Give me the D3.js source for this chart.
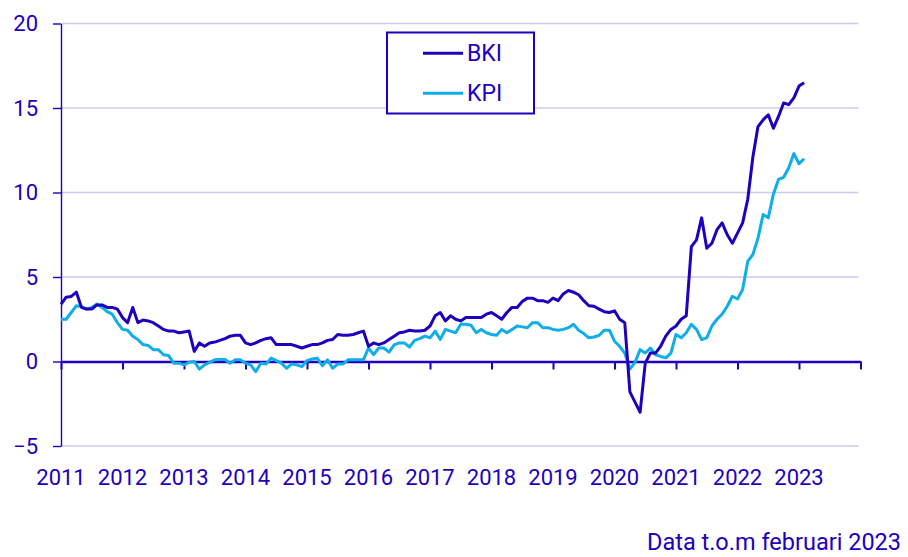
<!DOCTYPE html>
<html>
<head>
<meta charset="utf-8">
<script src="https://cdn.jsdelivr.net/npm/d3@7"></script>
<style>
  body { margin: 0; background: #fff; }
  text { font-family: Roboto, "Noto Sans", sans-serif; fill: #1e00be; }
</style>
</head>
<body>
<div id="chart"></div>
<script>
// monthly values, jan 2011 - feb 2023
var years = ["2011", "2012", "2013", "2014", "2015", "2016", "2017", "2018", "2019", "2020", "2021", "2022", "2023", ""];
var yTicks = [-5, 0, 5, 10, 15, 20];
var seriesNames = ["BKI", "KPI"];

var bki = [
  3.4, 3.8, 3.85, 4.1, 3.2, 3.1, 3.1, 3.35, 3.35, 3.2, 3.2, 3.1,
  2.6, 2.3, 3.2, 2.3, 2.45, 2.4, 2.3, 2.1, 1.9, 1.8, 1.8, 1.7,
  1.75, 1.8, 0.6, 1.1, 0.9, 1.1, 1.15, 1.25, 1.35, 1.5, 1.55, 1.55,
  1.1, 1.0, 1.1, 1.25, 1.35, 1.4, 1.0, 1.0, 1.0, 1.0, 0.9, 0.8,
  0.9, 1.0, 1.0, 1.1, 1.25, 1.3, 1.6, 1.55, 1.55, 1.6, 1.7, 1.8,
  0.9, 1.1, 1.0, 1.1, 1.3, 1.5, 1.7, 1.75, 1.85, 1.8, 1.8, 1.85,
  2.1, 2.7, 2.9, 2.4, 2.7, 2.5, 2.4, 2.6, 2.6, 2.6, 2.6, 2.8,
  2.9, 2.7, 2.5, 2.9, 3.2, 3.2, 3.55, 3.75, 3.75, 3.6, 3.6, 3.5,
  3.75, 3.6, 4.0, 4.2, 4.1, 3.95, 3.6, 3.3, 3.27, 3.1, 2.95, 2.9,
  3.0, 2.5, 2.3, -1.8, -2.4, -3.0, -0.1, 0.5, 0.5, 0.9, 1.5, 1.9,
  2.1, 2.5, 2.7, 6.8, 7.2, 8.5, 6.7, 7.0, 7.8, 8.2, 7.5, 7.0,
  7.6, 8.2, 9.6, 12.1, 13.9, 14.3, 14.6, 13.8, 14.5, 15.3, 15.2, 15.6,
  16.3, 16.5
];

var kpi = [
  2.5, 2.5, 2.9, 3.3, 3.25, 3.1, 3.2, 3.4, 3.2, 2.95, 2.8, 2.3,
  1.9, 1.85, 1.5, 1.3, 1.0, 0.95, 0.7, 0.7, 0.4, 0.35, -0.1, -0.1,
  -0.2, -0.05, 0.0, -0.45, -0.2, -0.05, 0.1, 0.12, 0.12, -0.1, 0.1, 0.1,
  -0.1, -0.2, -0.6, -0.1, -0.15, 0.2, 0.05, -0.1, -0.4, -0.15, -0.2, -0.3,
  0.05, 0.15, 0.2, -0.25, 0.1, -0.4, -0.15, -0.15, 0.1, 0.1, 0.1, 0.1,
  0.8, 0.41, 0.8, 0.8, 0.55, 0.98, 1.1, 1.1, 0.86, 1.25, 1.35, 1.5,
  1.4, 1.8, 1.3, 1.9, 1.8, 1.7, 2.2, 2.2, 2.15, 1.7, 1.9, 1.7,
  1.6, 1.55, 1.9, 1.7, 1.9, 2.1, 2.05, 2.0, 2.3, 2.3, 2.0, 2.0,
  1.9, 1.85, 1.9, 2.0, 2.2, 1.85, 1.65, 1.4, 1.45, 1.55, 1.85, 1.85,
  1.2, 0.9, 0.5, -0.45, -0.05, 0.7, 0.5, 0.8, 0.4, 0.3, 0.22, 0.5,
  1.6, 1.4, 1.7, 2.2, 1.9, 1.3, 1.4, 2.1, 2.5, 2.8, 3.27, 3.86,
  3.7, 4.26, 5.93, 6.33, 7.3, 8.7, 8.5, 9.9, 10.77, 10.9, 11.46, 12.3,
  11.7, 12.0
];

var colors = { BKI: "#1e00be", KPI: "#10aee8" };
var dark = "#1e00be";
var grid = "#cbcbf0";

var width = 908, height = 557;
var svg = d3.select("#chart").append("svg")
    .attr("width", width).attr("height", height);

// one unit = one month
var x = d3.scaleLinear().domain([0, 156]).range([61, 860.5]);
var y = d3.scaleLinear().domain([-5, 20]).range([446, 23.5]);

// gridlines
svg.append("g")
    .selectAll("line")
    .data(yTicks.filter(function (d) { return d !== 0; }))
    .enter().append("line")
    .attr("x1", x(0)).attr("x2", x(156) - 2)
    .attr("y1", function (d) { return y(d); })
    .attr("y2", function (d) { return y(d); })
    .attr("stroke", grid)
    .attr("stroke-width", 1.5);

// y axis
var yAxis = svg.append("g")
    .attr("transform", "translate(" + x(0) + ",0)")
    .call(d3.axisLeft(y).tickValues(yTicks).tickSize(8).tickPadding(15).tickSizeOuter(0));
yAxis.select(".domain").attr("stroke", dark).attr("stroke-width", 1.4);
yAxis.selectAll(".tick line").attr("stroke", dark).attr("stroke-width", 1.4);
yAxis.selectAll(".tick text")
    .attr("font-size", 22).attr("fill", dark)
    .style("font-family", "Roboto, sans-serif");

// x axis on zero line
var monthTicks = years.map(function (d, i) { return i * 12; });
var xAxis = svg.append("g")
    .attr("transform", "translate(0," + y(0) + ")")
    .call(d3.axisBottom(x).tickValues(monthTicks).tickSize(8).tickSizeOuter(0).tickFormat(""));
xAxis.select(".domain").attr("stroke", dark).attr("stroke-width", 2.4);
xAxis.selectAll(".tick line").attr("stroke", dark).attr("stroke-width", 2);

// year labels under the plot
svg.append("g")
    .selectAll("text")
    .data(years)
    .enter().append("text")
    .attr("x", function (d, i) { return x(i * 12); })
    .attr("y", 485)
    .attr("text-anchor", "middle")
    .attr("font-size", 22)
    .text(function (d) { return d; });

// lines
var line = d3.line()
    .x(function (d, i) { return x(i); })
    .y(function (d) { return y(d); });

var seriesData = { BKI: bki, KPI: kpi };
seriesNames.slice().reverse().forEach(function (name) {
    svg.append("path")
        .datum(seriesData[name])
        .attr("d", line)
        .attr("fill", "none")
        .attr("stroke", colors[name])
        .attr("stroke-width", 3)
        .attr("stroke-linejoin", "round");
});

// legend
var legend = svg.append("g");
legend.append("rect")
    .attr("x", 387).attr("y", 32.5)
    .attr("width", 147).attr("height", 81)
    .attr("fill", "#fff")
    .attr("stroke", dark)
    .attr("stroke-width", 2);

seriesNames.forEach(function (name, i) {
    var ly = 53.3 + i * 40;
    legend.append("line")
        .attr("x1", 423).attr("x2", 463)
        .attr("y1", ly).attr("y2", ly)
        .attr("stroke", colors[name])
        .attr("stroke-width", 3);
    legend.append("text")
        .attr("x", 467).attr("y", ly + 8)
        .attr("font-size", 23)
        .text(name);
});

// footnote
svg.append("text")
    .attr("x", 901).attr("y", 550)
    .attr("text-anchor", "end")
    .attr("font-size", 23.5)
    .text("Data t.o.m februari 2023");
</script>
</body>
</html>
